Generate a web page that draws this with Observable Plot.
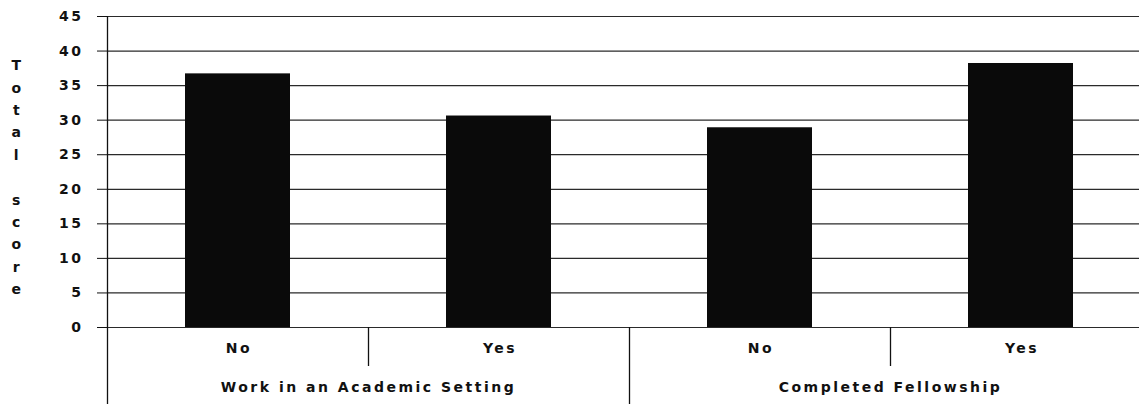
<!DOCTYPE html>
<html>
<head>
<meta charset="utf-8">
<script src="https://cdn.jsdelivr.net/npm/d3@7"></script>
<script src="https://cdn.jsdelivr.net/npm/@observablehq/plot@0.6"></script>
<style>
  html, body { margin: 0; padding: 0; background: #fff; }
  #chart svg { display: block; }
</style>
</head>
<body>
<div id="chart"></div>
<script>
// ---- data ----
const groups = ["Work in an Academic Setting", "Completed Fellowship"];
const answers = ["No", "Yes"];
const scores = [36.7, 30.6, 28.9, 38.2];
const yTicks = [0, 5, 10, 15, 20, 25, 30, 35, 40, 45];
const yTitle = "Total score";

// ---- derived tables ----
const rows = groups.flatMap((g, gi) =>
  answers.map((a, ai) => ({group: g, answer: a, key: g + "|" + a, score: scores[gi * answers.length + ai]}))
);
const keys = rows.map(d => d.key);
const groupRows = groups.map(g => ({group: g, first: g + "|" + answers[0]}));
const longSeps = groupRows.map(d => ({key: d.first}));
const shortSeps = rows.filter(d => d.answer !== answers[0]).map(d => ({key: d.key}));

const W = 1139, H = 404;
const mLeft = 107, mTop = 16, mBottom = 77;
const xRange = [mLeft, 1151];
const xs = Plot.scale({x: {type: "band", domain: keys, range: xRange, padding: 0}});
const bw = xs.bandwidth;
const ink = "#111";

const chart = Plot.plot({
  width: W,
  height: H,
  marginLeft: mLeft,
  marginRight: 0,
  marginTop: mTop,
  marginBottom: mBottom,
  style: {fontFamily: "DejaVu Sans", fontWeight: "bold", fontSize: "14px", color: ink, letterSpacing: "2.5px", background: "#fff"},
  x: {type: "band", domain: keys, range: xRange, padding: 0, axis: null},
  y: {domain: [0, 45], ticks: yTicks, tickSize: 10, tickPadding: 14, label: null, tickFormat: d => String(d)},
  marks: [
    Plot.ruleY(yTicks, {stroke: "#2a2a2a", strokeWidth: 1.2}),
    Plot.barY(rows, {x: "key", y: "score", fill: "#0a0a0a", insetLeft: 78, insetRight: 78}),
    Plot.ruleX([keys[0]], {dx: -bw / 2, stroke: ink, strokeWidth: 1.3, insetBottom: -mBottom}),
    Plot.ruleX(longSeps.slice(1), {x: "key", y1: 0, y2: 0, dx: -bw / 2, stroke: ink, strokeWidth: 1.3, insetBottom: -mBottom}),
    Plot.ruleX(shortSeps, {x: "key", y1: 0, y2: 0, dx: -bw / 2, stroke: ink, strokeWidth: 1.3, insetBottom: -39}),
    Plot.text(rows, {x: "key", text: "answer", frameAnchor: "bottom", dy: 25, dx: 1, fontSize: 14, fill: ink}),
    Plot.text(groupRows, {x: "first", text: "group", frameAnchor: "bottom", dy: 64, dx: bw / 2, fontSize: 14, fill: ink}),
    Plot.text([yTitle], {
      text: d => d.split("").map(c => c === " " ? "\u00a0" : c).join("\n"),
      frameAnchor: "left", dx: -90, dy: 3, lineHeight: 1.6, fontSize: 14, fill: ink, textAnchor: "middle"
    })
  ]
});
document.getElementById("chart").append(chart);
</script>
</body>
</html>
